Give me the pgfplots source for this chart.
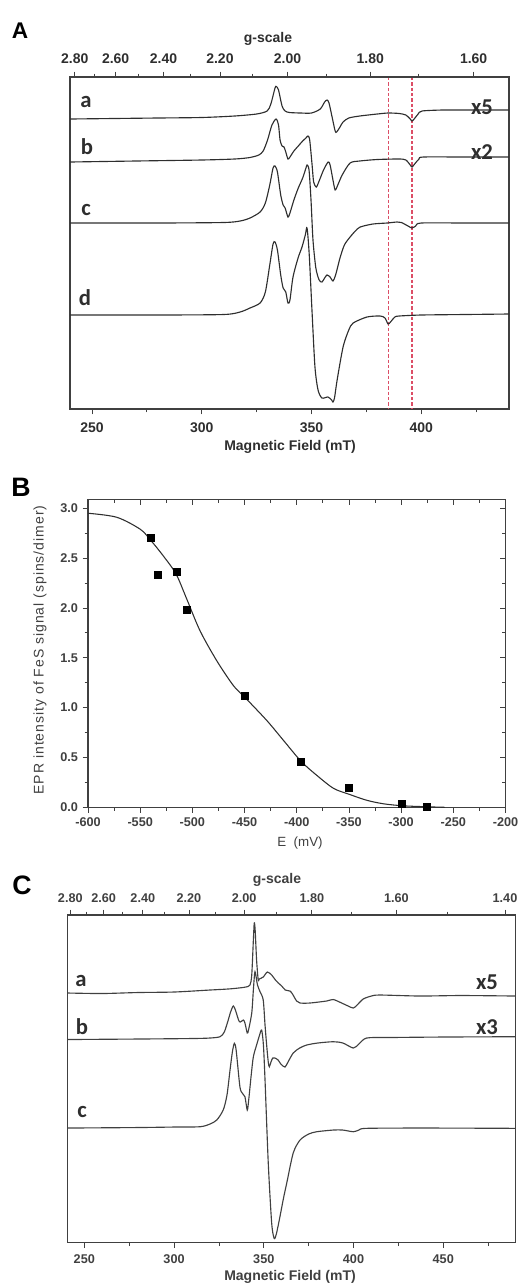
\documentclass[border=0pt]{standalone}
\usepackage{pgfplots}
\pgfplotsset{compat=1.18}
\usepackage{fontspec}
\setmainfont{Liberation Sans}
\newfontfamily\calib{Carlito}
\definecolor{ln}{HTML}{2E2E2E}
\definecolor{fr}{HTML}{404040}
\definecolor{rd}{HTML}{DC4E66}
\pgfplotsset{
  spec/.style={scale only axis, axis line style={fr, line width=0.8pt},
    tick style={fr, line width=0.6pt}, major tick length=4pt, minor tick length=2.5pt,
    ticklabel style={font=\fontsize{10.5}{11}\bfseries\selectfont, text=ln},
    tick align=outside},
  trace/.style={ln, line width=0.85pt, smooth, tension=0.45, no marks},
}
\begin{document}
\begin{tikzpicture}
\useasboundingbox (0pt,0pt) rectangle (388.5pt,-963.75pt);

% ================= Panel A =================
\begin{axis}[spec, at={(52.5pt,-57.75pt)}, anchor=north west, width=329.25pt, height=249pt,
  xmin=240, xmax=440, ymin=77, ymax=409, y dir=reverse,
  xtick={250,300,350,400}, xticklabels={250,300,350,400}, minor xtick={275,325,375,425},
  xtick pos=left, ytick=\empty, xticklabel style={yshift=-2.5pt}]
\addplot[rd, line width=0.8pt, dash pattern=on 2.5pt off 1.5pt] coordinates {(384.9,77) (384.9,409)};
\addplot[rd, line width=0.8pt, dash pattern=on 2.5pt off 1.5pt] coordinates {(395.8,77) (395.8,409)};
% trace a
\addplot[trace] coordinates {(240,119) (260,118.5) (280,118) (300,117.5) (315,116) (325,114) (329.8,111)
 (331.5,104) (333.4,88) (334,86.5) (335,90) (336.6,106) (338,111) (340,112.5) (345,113) (350,113)
 (354,109) (356,102) (357.1,100) (358,103) (359.5,118) (360.8,131) (361.5,132) (363,127) (364.4,122)
 (367,118) (372,116) (380,114) (385,113) (390,113.5) (393,115) (395,119) (395.8,121) (396.8,119)
 (398.6,114) (400.4,111) (410,110) (425,110) (440,110)};
% trace b
\addplot[trace] coordinates {(240,162) (270,161) (300,160) (315,159) (322,157.5) (326,155) (328,151)
 (330,140) (332,125) (333.9,119) (335,125) (335.7,140) (336.6,146) (337.5,147) (338.3,152) (339.3,159)
 (340.2,157) (342,151) (344,146) (346,141) (347.5,138) (348.4,136) (349.2,140) (350.3,165) (351,182)
 (352.2,187) (353.5,181) (355.5,170) (357.6,162) (358.5,165) (359.8,180) (360.8,190) (362,185)
 (364,175) (367.6,163) (372,161) (380,159.5) (390,159) (393,160) (395,165) (395.8,167) (397,164)
 (399,159) (401,157) (420,157) (440,157)};
% trace c
\addplot[trace] coordinates {(240,223) (280,223) (310,222.5) (317.5,221) (322,218) (326.6,212) (329,203)
 (331,185) (332.5,168) (333.4,166) (334.5,172) (336,195) (337.1,205) (338,208) (339.3,217) (340.2,213)
 (342,200) (344,188) (346,178) (347.5,168) (348.0,165) (348.9,170) (349.8,200) (350.7,240) (352,268)
 (353.5,280) (354.8,282) (356,278) (357.1,275) (358.5,277) (359.8,281) (361,275) (363,258) (365,245)
 (367.6,237) (370,231) (372.2,227) (378,224) (384.5,223) (389,222) (391,222.5) (394,226) (395.8,228)
 (397.5,226) (400,223) (420,223) (440,223)};
% trace d
\addplot[trace] coordinates {(240,315) (280,315) (310,314.5) (317.5,312) (322,308) (326.6,303) (329,292)
 (331,265) (332.5,244) (333.4,242) (334.5,250) (336,275) (337.1,288) (338.3,292) (339.3,303) (340.2,300)
 (341.6,277) (343.9,258) (345.7,247) (347.2,235) (348.0,228) (349.0,255) (350.3,313) (351.6,367)
 (353.0,390) (354.8,398) (357.5,397) (359.2,400) (359.8,402) (360.5,398) (361.7,380) (364.4,347)
 (367,330) (369,323) (375.3,317) (381.3,316) (383.5,318) (384.9,324) (386,322) (388,317) (390,316)
 (400,315) (420,314.5) (440,314)};
\end{axis}
\begin{axis}[spec, at={(52.5pt,-57.75pt)}, anchor=north west, width=329.25pt, height=249pt,
  xmin=240, xmax=440, ymin=0, ymax=1, axis x line*=top, axis y line=none,
  xtick={242.2,260.8,282.6,308.3,339.1,376.8,423.9},
  xticklabels={2.80,2.60,2.40,2.20,2.00,1.80,1.60},
  minor xtick={251.2,271.3,294.9,323.0,356.9,398.9}, xticklabel style={yshift=2.5pt}]
\end{axis}
\node[font=\fontsize{17}{17}\bfseries\selectfont] at (15pt,-23.25pt) {A};
\node[font=\fontsize{10.5}{11}\bfseries\selectfont, text=ln] at (201pt,-29.25pt) {g-scale};
\node[font=\fontsize{10.5}{11}\bfseries\selectfont, text=ln] at (217.5pt,-335.25pt) {Magnetic Field (mT)};
\node[font=\fontsize{17}{17}\calib\bfseries\selectfont, text=ln] at (64.5pt,-76.5pt) {a};
\node[font=\fontsize{17}{17}\calib\bfseries\selectfont, text=ln] at (65.25pt,-110.25pt) {b};
\node[font=\fontsize{17}{17}\calib\bfseries\selectfont, text=ln] at (64.5pt,-157.5pt) {c};
\node[font=\fontsize{17}{17}\calib\bfseries\selectfont, text=ln] at (63.75pt,-223.5pt) {d};
\node[font=\fontsize{17}{17}\calib\bfseries\selectfont, text=ln] at (361.5pt,-80.25pt) {x5};
\node[font=\fontsize{17}{17}\calib\bfseries\selectfont, text=ln] at (361.5pt,-114pt) {x2};

% ================= Panel B =================
\begin{axis}[spec, at={(66pt,-374.475pt)}, anchor=north west, width=313.1pt, height=231pt,
  xmin=-600, xmax=-200, ymin=0, ymax=3.09,
  xtick={-600,-550,-500,-450,-400,-350,-300,-250,-200},
  xticklabels={-600,-550,-500,-450,-400,-350,-300,-250,-200},
  minor xtick={-575,-525,-475,-425,-375,-325,-275,-225},
  ytick={0,0.5,1,1.5,2,2.5,3}, yticklabels={0.0,0.5,1.0,1.5,2.0,2.5,3.0},
  minor ytick={0.25,0.75,1.25,1.75,2.25,2.75},
  xtick pos=left, ytick pos=left,
  ticklabel style={font=\fontsize{9.5}{10}\bfseries\selectfont, text=fr}]
\addplot[ln, line width=0.8pt, smooth, tension=0.5, no marks] coordinates {
 (-600,2.95) (-572.5,2.91) (-550,2.79) (-540,2.68) (-527.7,2.52) (-515.6,2.34) (-505.4,2.09)
 (-492.6,1.77) (-476.6,1.47) (-460.6,1.22) (-449.4,1.10) (-428.6,0.87) (-412.6,0.67) (-395.7,0.46)
 (-380.7,0.32) (-364.7,0.19) (-349.6,0.13) (-332.7,0.07) (-316.7,0.035) (-298,0.015) (-274,0.005) (-258,0.0)};
\addplot[only marks, mark=square*, mark size=2.6pt, black] coordinates {
 (-540,2.70) (-533,2.33) (-515,2.36) (-505,1.98) (-450,1.12) (-396,0.46) (-350,0.20) (-299,0.04) (-275,0.01)};
\end{axis}
\begin{axis}[spec, at={(66pt,-374.475pt)}, anchor=north west, width=313.1pt, height=231pt,
  xmin=-600, xmax=-200, ymin=0, ymax=3.09, axis x line*=top, axis y line*=right,
  tick align=inside,
  xtick={-600,-550,-500,-450,-400,-350,-300,-250,-200},
  minor xtick={-575,-525,-475,-425,-375,-325,-275,-225},
  ytick={0,0.5,1,1.5,2,2.5,3}, minor ytick={0.25,0.75,1.25,1.75,2.25,2.75},
  xticklabels={}, yticklabels={}]
\end{axis}
\node[font=\fontsize{20}{20}\bfseries\selectfont] at (15.75pt,-365.25pt) {B};
\node[font=\fontsize{10}{11}\selectfont, text=fr] at (225pt,-632.25pt) {E \ (mV)};
\node[rotate=90, font=\fontsize{10.5}{11}\selectfont\addfontfeatures{LetterSpace=7}, text=fr] at (30pt,-487.5pt) {EPR intensity of FeS signal (spins/dimer)};

% ================= Panel C =================
\begin{axis}[spec, at={(50.775pt,-686.25pt)}, anchor=north west, width=335.5pt, height=245.8pt,
  xmin=240.75, xmax=490, ymin=915, ymax=1242.7, y dir=reverse,
  xtick={250,300,350,400,450}, xticklabels={250,300,350,400,450}, minor xtick={275,325,375,425,475},
  xtick pos=left, ytick=\empty,
  ticklabel style={font=\fontsize{9.5}{10}\bfseries\selectfont, text=fr}, xticklabel style={yshift=-1.5pt}]
% trace a
\addplot[trace, fr] coordinates {(240.75,993) (260,993.5) (280,992.5) (300,992) (320,990) (330,989)
 (336,988) (340,987) (342.3,985) (343.3,975) (344.2,940) (344.7,923) (345.2,930) (346,960) (346.9,980)
 (347.5,979) (349.7,977) (352,972) (354.4,975) (356.5,980) (358.1,983) (360,986) (362,990) (364.6,991)
 (366,994) (368.3,1001) (370.2,1003) (375.7,1003) (385,1001) (388.7,999.5) (393.4,1003) (397,1006)
 (399.9,1008) (402,1005) (405.4,999) (410,996) (414.7,995) (437,996) (460,995.5) (490,996)};
% trace b
\addplot[trace, fr] coordinates {(240.75,1039.5) (280,1039) (310,1038.5) (320,1038) (325.6,1036.7)
 (328,1032) (330.2,1020) (331.5,1012) (333.0,1006) (334.2,1010) (336.4,1021.7) (338.6,1020) (339.5,1023)
 (340.8,1033) (341.5,1030) (343.3,1013) (344.2,990) (345.1,971.7) (346.5,985) (348,992) (349.7,1000)
 (350.7,1025) (351.6,1045) (352.5,1062) (353.1,1066.7) (354,1062) (355,1058) (356.2,1058) (358,1060)
 (359.5,1064) (361.8,1067) (363.5,1062) (366.4,1053) (370,1048) (373.9,1045) (380,1043) (388.7,1041.7)
 (394.1,1043) (399.9,1048) (403,1044) (407.3,1038) (420,1037.5) (450,1037) (490,1036.7)};
% trace c
\addplot[trace, fr] coordinates {(240.75,1128) (280,1127.5) (300,1127) (314.5,1126.7) (320,1124)
 (323.8,1120) (327.4,1110) (329.5,1095) (331.2,1070) (332.5,1052) (333.6,1043.3) (334.6,1050)
 (336.7,1086.7) (338,1093) (339.5,1096.7) (340.8,1110) (341.6,1100) (343,1075) (344.2,1056.7) (346,1045)
 (347.5,1036) (348.8,1030) (349.8,1045) (350.7,1080) (352.5,1163) (354.4,1223) (355.8,1238.3) (357,1234)
 (359.0,1216.7) (361,1198) (362.8,1183) (366.4,1153) (370.2,1140) (375,1134) (379.5,1131.7) (388.7,1130)
 (394,1130) (399.9,1131.7) (403,1130) (407.3,1128.3) (440,1128) (490,1128.3)};
\end{axis}
\begin{axis}[spec, at={(50.775pt,-686.25pt)}, anchor=north west, width=335.5pt, height=245.8pt,
  xmin=240.75, xmax=490, ymin=0, ymax=1, axis x line*=top, axis y line=none,
  xtick={242.2,260.8,282.6,308.3,339.1,376.8,423.9,484.4},
  xticklabels={2.80,2.60,2.40,2.20,2.00,1.80,1.60,1.40},
  minor xtick={251.2,271.3,294.9,323.0,356.9,398.9,452.1},
  ticklabel style={font=\fontsize{9.5}{10}\bfseries\selectfont, text=fr}, xticklabel style={yshift=2pt}]
\end{axis}
\node[font=\fontsize{20}{20}\bfseries\selectfont] at (16.5pt,-663.75pt) {C};
\node[font=\fontsize{10.5}{11}\bfseries\selectfont, text=fr] at (207.75pt,-660pt) {g-scale};
\node[font=\fontsize{10.5}{11}\bfseries\selectfont, text=fr] at (217.5pt,-957.75pt) {Magnetic Field (mT)};
\node[font=\fontsize{17}{17}\calib\bfseries\selectfont, text=ln] at (60.75pt,-735.75pt) {a};
\node[font=\fontsize{17}{17}\calib\bfseries\selectfont, text=ln] at (61.5pt,-770.25pt) {b};
\node[font=\fontsize{17}{17}\calib\bfseries\selectfont, text=ln] at (61.5pt,-834pt) {c};
\node[font=\fontsize{17}{17}\calib\bfseries\selectfont, text=ln] at (365.25pt,-736.5pt) {x5};
\node[font=\fontsize{17}{17}\calib\bfseries\selectfont, text=ln] at (365.25pt,-770.25pt) {x3};
\end{tikzpicture}
\end{document}
